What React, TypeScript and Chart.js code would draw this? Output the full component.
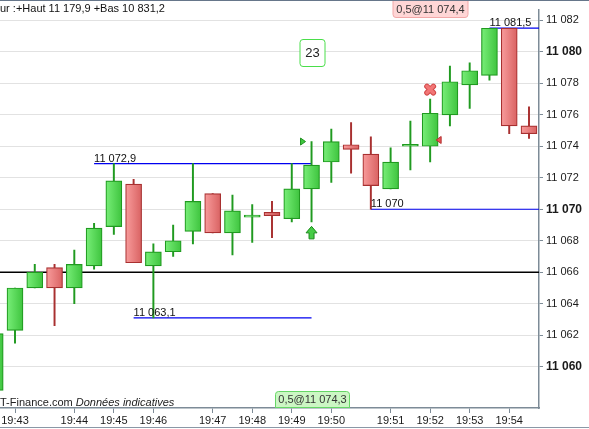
import React, { useEffect, useRef } from 'react';
import { Chart, registerables } from 'chart.js';

Chart.register(...registerables);

// ---- data ----
const candleIndex = [0, 1, 2, 3, 4, 5, 6, 7, 8, 9, 10, 11, 12, 13, 14, 15, 16, 17, 18, 19, 20, 21, 22, 23, 24, 25, 26, 27];
const opens = [11058.5, 11062.3, 11065.0, 11066.3, 11065.0, 11066.4, 11068.9, 11071.6, 11066.4, 11067.3, 11068.6, 11071.0, 11068.5, 11069.5, 11069.8, 11069.4, 11071.3, 11073.0, 11074.1, 11073.5, 11071.3, 11074.0, 11074.0, 11076.0, 11077.9, 11078.5, 11081.5, 11075.3];
const highs = [11062.3, 11065.0, 11066.5, 11066.5, 11067.4, 11069.1, 11072.9, 11071.9, 11067.8, 11069.0, 11072.9, 11071.0, 11070.9, 11070.3, 11070.5, 11072.9, 11074.3, 11075.1, 11075.5, 11074.6, 11073.9, 11075.6, 11077.0, 11079.1, 11079.3, 11081.5, 11081.5, 11076.5];
const lows = [11058.3, 11061.5, 11065.0, 11062.6, 11064.0, 11066.2, 11068.4, 11066.6, 11063.1, 11067.0, 11067.8, 11068.5, 11067.1, 11067.9, 11068.2, 11069.2, 11069.2, 11071.7, 11072.3, 11070.0, 11071.3, 11072.5, 11073.0, 11075.3, 11076.4, 11078.2, 11074.8, 11074.5];
const closes = [11062.1, 11065.0, 11066.0, 11065.0, 11066.5, 11068.8, 11071.8, 11066.6, 11067.3, 11068.0, 11070.5, 11068.5, 11069.9, 11069.5, 11069.6, 11071.3, 11072.8, 11074.3, 11073.8, 11071.5, 11073.0, 11074.0, 11076.1, 11078.1, 11078.8, 11081.5, 11075.3, 11074.8];

const tickIndex = [1, 4, 6, 8, 11, 13, 15, 17, 20, 22, 24, 26];
const tickLabels = ['19:43', '19:44', '19:45', '19:46', '19:47', '19:48', '19:49', '19:50', '19:51', '19:52', '19:53', '19:54'];
const priceTicks = [11060, 11062, 11064, 11066, 11068, 11070, 11072, 11074, 11076, 11078, 11080, 11082];

const levelValues = [11072.9, 11063.1, 11070.0, 11081.5];
const levelLabels = ['11 072,9', '11 063,1', '11 070', '11 081,5'];
const levelFrom = [5, 7, 19, 25];
const levelTo = [16, 16, 29, 29];
const pivotValue = 11066;

const buyIndex = 16;
const buyPrice = 11074.3;
const buyLabel = '0,5@11 074,3';
const sellIndex = 22;
const sellPrice = 11074.4;
const sellLabel = '0,5@11 074,4';
const counterLabel = '23';
const headerText = 'ur :+Haut 11 179,9 +Bas 10 831,2';
const footerSite = 'IT-Finance.com';
const footerNote = 'Données indicatives';

// ---- styles ----
const FONT = "'Liberation Sans', Arial, sans-serif";
const UP_BORDER = '#209a20';
const DOWN_BORDER = '#a83030';
const AXIS = '#7d8b97';

function fmt(v: number): string {
  const neg = v < 0;
  const s = Math.round(Math.abs(v)).toString().replace(/\B(?=(\d{3})+(?!\d))/g, ' ');
  return neg ? '-' + s : s;
}

function isUp(i: number) {
  return closes[i] >= opens[i];
}

function bodyFill(ctx: any) {
  if (ctx.type !== 'data') return '#55dd55';
  const i = ctx.dataIndex;
  const up = isUp(i);
  const solid = up ? '#55dd55' : '#ee7777';
  const chart = ctx.chart;
  const xs = chart.scales && chart.scales.x;
  if (!xs) return solid;
  const px = xs.getPixelForValue(candleIndex[i]);
  if (!Number.isFinite(px)) return solid;
  const g = chart.ctx.createLinearGradient(px - 8, 0, px + 8, 0);
  if (up) {
    g.addColorStop(0, '#78ee78');
    g.addColorStop(1, '#3ec43e');
  } else {
    g.addColorStop(0, '#f89c9c');
    g.addColorStop(1, '#d96262');
  }
  return g;
}

const decor = {
  id: 'decor',
  afterDatasetsDraw(chart: any) {
    const { ctx, scales } = chart;
    const xs = scales.x;
    const ys = scales.y;
    ctx.save();
    // level labels
    ctx.font = `11px ${FONT}`;
    ctx.fillStyle = '#111';
    ctx.textBaseline = 'alphabetic';
    ctx.textAlign = 'left';
    levelValues.forEach((v, i) => {
      const x = xs.getPixelForValue(levelFrom[i]);
      const y = ys.getPixelForValue(v);
      ctx.fillText(levelLabels[i], x, y - 2);
    });

    // buy triangle (pointing right)
    {
      const cx = xs.getPixelForValue(buyIndex);
      const cy = ys.getPixelForValue(buyPrice);
      ctx.beginPath();
      ctx.moveTo(cx - 11, cy - 3.5);
      ctx.lineTo(cx - 6, cy);
      ctx.lineTo(cx - 11, cy + 3.5);
      ctx.closePath();
      ctx.fillStyle = '#3cc83c';
      ctx.fill();
      ctx.strokeStyle = '#1f8f1f';
      ctx.lineWidth = 1;
      ctx.stroke();
    }
    // sell triangle (pointing left)
    {
      const cx = xs.getPixelForValue(sellIndex);
      const cy = ys.getPixelForValue(sellPrice);
      ctx.beginPath();
      ctx.moveTo(cx + 11, cy - 3.5);
      ctx.lineTo(cx + 6, cy);
      ctx.lineTo(cx + 11, cy + 3.5);
      ctx.closePath();
      ctx.fillStyle = '#ee5555';
      ctx.fill();
      ctx.strokeStyle = '#b03030';
      ctx.lineWidth = 1;
      ctx.stroke();
    }
    // red cross above sell candle
    {
      const cx = xs.getPixelForValue(sellIndex);
      const cy = ys.getPixelForValue(highs[sellIndex]) - 9.5;
      const a = 3.2;
      ctx.lineCap = 'round';
      ctx.beginPath();
      ctx.moveTo(cx - a, cy - a);
      ctx.lineTo(cx + a, cy + a);
      ctx.moveTo(cx + a, cy - a);
      ctx.lineTo(cx - a, cy + a);
      ctx.strokeStyle = '#d24848';
      ctx.lineWidth = 5.5;
      ctx.stroke();
      ctx.strokeStyle = '#f27676';
      ctx.lineWidth = 3.5;
      ctx.stroke();
    }
    // green up arrow under buy candle
    {
      const cx = xs.getPixelForValue(buyIndex);
      const top = ys.getPixelForValue(lows[buyIndex]) + 4.5;
      ctx.beginPath();
      ctx.moveTo(cx, top);
      ctx.lineTo(cx + 5.5, top + 6.5);
      ctx.lineTo(cx + 2.5, top + 6.5);
      ctx.lineTo(cx + 2.5, top + 12.5);
      ctx.lineTo(cx - 2.5, top + 12.5);
      ctx.lineTo(cx - 2.5, top + 6.5);
      ctx.lineTo(cx - 5.5, top + 6.5);
      ctx.closePath();
      ctx.fillStyle = '#46cc46';
      ctx.fill();
      ctx.strokeStyle = '#1a8a1a';
      ctx.lineWidth = 1;
      ctx.lineCap = 'butt';
      ctx.stroke();
    }
    ctx.restore();
  },
  afterDraw(chart: any) {
    const { ctx, scales, chartArea } = chart;
    const xs = scales.x;
    ctx.save();
    ctx.textBaseline = 'middle';
    ctx.textAlign = 'center';

    // sell box at top
    {
      const cx = Math.round(xs.getPixelForValue(sellIndex));
      const w = 75;
      const h = 17;
      ctx.beginPath();
      (ctx as any).roundRect(cx - w / 2 + 0.5, 0.5, w, h, [0, 0, 3, 3]);
      ctx.fillStyle = '#ffd6d6';
      ctx.fill();
      ctx.strokeStyle = '#f2a8a8';
      ctx.lineWidth = 1;
      ctx.stroke();
      ctx.font = `11px ${FONT}`;
      ctx.fillStyle = '#333';
      ctx.fillText(sellLabel, cx + 0.5, 9.5);
    }
    // buy box at bottom
    {
      const cx = Math.round(xs.getPixelForValue(buyIndex));
      const w = 74;
      const h = 17;
      const b = chartArea.bottom;
      ctx.beginPath();
      (ctx as any).roundRect(cx - w / 2 + 0.5, b - h + 0.5, w, h - 1, [3, 3, 0, 0]);
      ctx.fillStyle = '#ccf6c4';
      ctx.fill();
      ctx.strokeStyle = '#66d666';
      ctx.lineWidth = 1;
      ctx.stroke();
      ctx.font = `11px ${FONT}`;
      ctx.fillStyle = '#333';
      ctx.fillText(buyLabel, cx + 0.5, b - 8);
    }
    // counter box
    {
      const cx = Math.round(xs.getPixelForValue(buyIndex));
      ctx.beginPath();
      (ctx as any).roundRect(cx - 12.5 + 0.5, 39.5, 25, 27, 3);
      ctx.fillStyle = '#ffffff';
      ctx.fill();
      ctx.strokeStyle = '#4ade4a';
      ctx.lineWidth = 1;
      ctx.stroke();
      ctx.font = `13px ${FONT}`;
      ctx.fillStyle = '#222';
      ctx.fillText(counterLabel, cx + 0.5, 53.5);
    }

    // header text
    ctx.textAlign = 'left';
    ctx.textBaseline = 'alphabetic';
    ctx.font = `11px ${FONT}`;
    const hw = ctx.measureText(headerText).width;
    ctx.fillStyle = '#ffffff';
    ctx.fillRect(0, 1, hw + 1, 15);
    ctx.fillStyle = '#111';
    ctx.fillText(headerText, 0, 12);

    // footer text
    const iw = ctx.measureText('I').width;
    const siteText = footerSite + ' ';
    ctx.fillStyle = '#222';
    ctx.fillText(siteText, -iw, 406);
    const sw = ctx.measureText(siteText).width;
    ctx.font = `italic 11px ${FONT}`;
    ctx.fillText(footerNote, -iw + sw, 406);

    // frame lines
    ctx.strokeStyle = '#66768a';
    ctx.lineWidth = 2;
    ctx.beginPath();
    ctx.moveTo(0, 0);
    ctx.lineTo(chart.width, 0);
    ctx.stroke();
    ctx.strokeStyle = '#8a98a6';
    ctx.lineWidth = 1;
    ctx.beginPath();
    ctx.moveTo(0, chart.height - 1.5);
    ctx.lineTo(chart.width, chart.height - 1.5);
    ctx.stroke();
    ctx.restore();
  },
};

export default function App() {
  const canvasRef = useRef<HTMLCanvasElement | null>(null);

  useEffect(() => {
    const canvas = canvasRef.current;
    if (!canvas) return;

    const levelSets = levelValues.map((v, i) => ({
      type: 'line' as const,
      data: [
        { x: levelFrom[i], y: v },
        { x: levelTo[i], y: v },
      ],
      borderColor: '#0000f0',
      borderWidth: 1.2,
      pointRadius: 0,
      fill: false,
      order: 3,
    }));

    const chart = new Chart(canvas, {
      type: 'bar',
      data: {
        datasets: [
          {
            type: 'bar',
            data: candleIndex.map((j, i) => ({ x: j, y: [opens[i], closes[i]] })) as any,
            backgroundColor: bodyFill as any,
            borderColor: ((c: any) => (c.type === 'data' && !isUp(c.dataIndex) ? DOWN_BORDER : UP_BORDER)) as any,
            borderWidth: 1.2,
            borderSkipped: false,
            barThickness: 16,
            grouped: false,
            minBarLength: 2,
            order: 0,
          } as any,
          {
            type: 'bar',
            data: candleIndex.map((j, i) => ({ x: j, y: [lows[i], highs[i]] })) as any,
            backgroundColor: ((c: any) => (c.type === 'data' && !isUp(c.dataIndex) ? DOWN_BORDER : UP_BORDER)) as any,
            borderWidth: 0,
            barThickness: 1.3,
            grouped: false,
            order: 1,
          } as any,
          {
            type: 'line',
            data: [
              { x: -2, y: pivotValue },
              { x: 30, y: pivotValue },
            ],
            borderColor: '#000000',
            borderWidth: 1.5,
            pointRadius: 0,
            fill: false,
            order: 2,
          } as any,
          ...(levelSets as any[]),
        ],
      },
      options: {
        animation: false,
        responsive: false,
        maintainAspectRatio: false,
        events: [],
        layout: { padding: 0 },
        plugins: {
          legend: { display: false },
          tooltip: { enabled: false },
        },
        scales: {
          x: {
            type: 'linear',
            min: 0.2412,
            max: 27.506,
            offset: false,
            grid: {
              offset: false,
              drawOnChartArea: false,
              drawTicks: true,
              tickLength: 5,
              tickColor: AXIS,
              tickWidth: 1,
            },
            border: { color: AXIS, width: 1.5 },
            ticks: {
              autoSkip: false,
              maxRotation: 0,
              minRotation: 0,
              padding: 1,
              color: '#1a1a1a',
              font: { family: FONT, size: 11 },
              callback: (v: any) => {
                const k = tickIndex.indexOf(Number(v));
                return k >= 0 ? tickLabels[k] : '';
              },
            },
            afterBuildTicks: (s: any) => {
              s.ticks = tickIndex.map((v) => ({ value: v }));
            },
            afterFit: (s: any) => {
              s.height = 21;
            },
          },
          y: {
            type: 'linear',
            position: 'right',
            min: 11057.377,
            max: 11082.682,
            beginAtZero: false,
            grid: {
              color: '#e2e2e2',
              lineWidth: 1,
              drawTicks: true,
              tickLength: 4,
              tickColor: AXIS,
            },
            border: { color: AXIS, width: 1.5 },
            ticks: {
              padding: 3,
              color: '#1a1a1a',
              font: ((c: any) => {
                const bold = c.tick && Math.round(c.tick.value) % 10 === 0;
                return { family: FONT, size: bold ? 12 : 11, weight: bold ? 'bold' : 'normal' };
              }) as any,
              callback: (v: any) => fmt(Number(v)),
            },
            afterBuildTicks: (s: any) => {
              s.ticks = priceTicks.map((v) => ({ value: v }));
            },
            afterFit: (s: any) => {
              s.width = 50;
            },
          },
        },
      } as any,
      plugins: [decor],
    });

    return () => {
      chart.destroy();
    };
  }, []);

  return (
    <div style={{ position: 'absolute', left: 0, top: 0, width: 589, height: 429, background: '#ffffff' }}>
      <canvas ref={canvasRef} width={589} height={429} style={{ display: 'block', width: 589, height: 429 }} />
    </div>
  );
}
